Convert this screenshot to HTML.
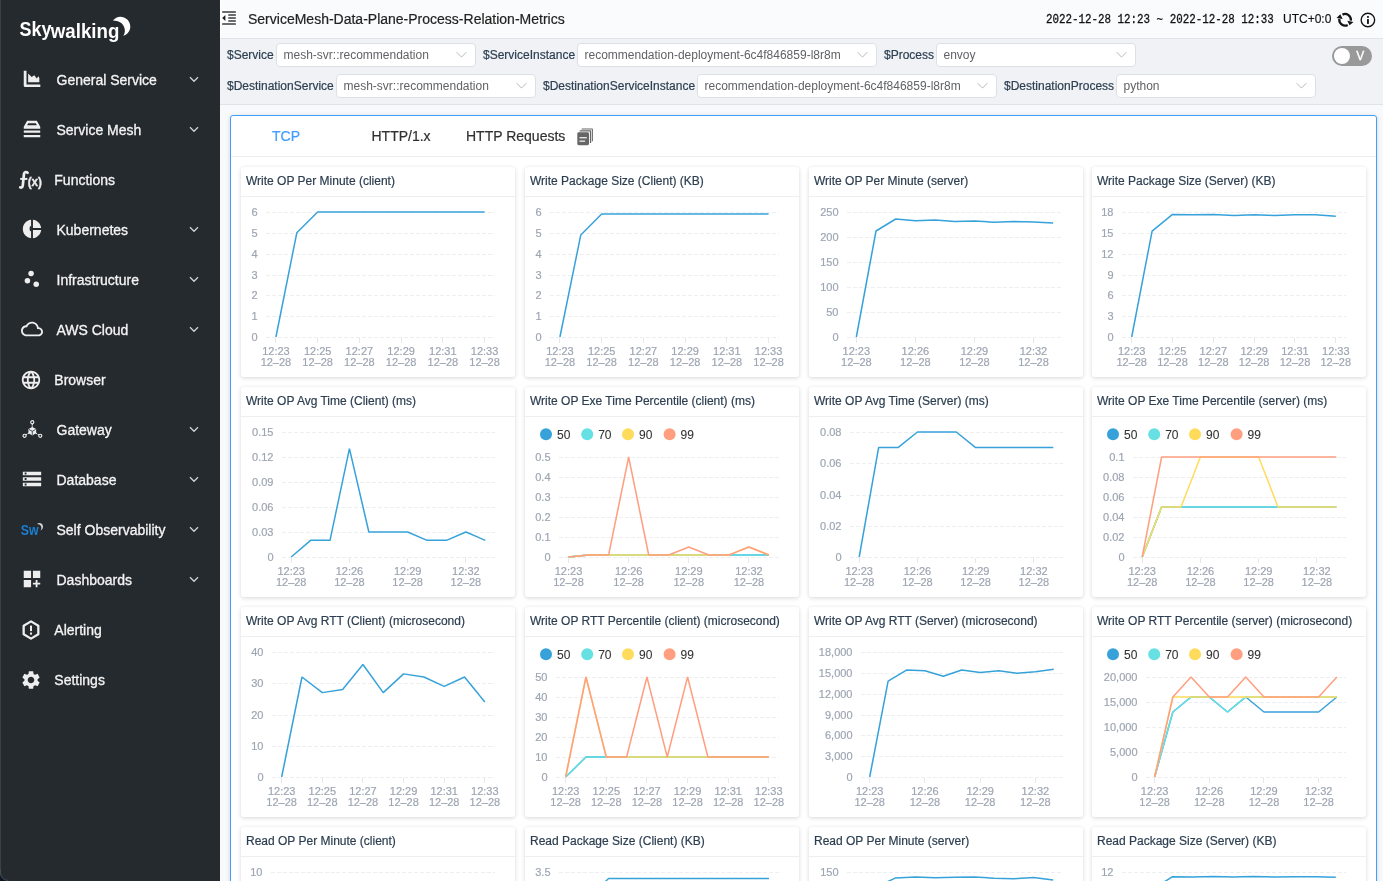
<!DOCTYPE html>
<html><head><meta charset="utf-8"><title>SkyWalking</title>
<style>
*{box-sizing:border-box;margin:0;padding:0}
html,body{width:1383px;height:881px;overflow:hidden;background:#f7f9fa;font-family:"Liberation Sans",sans-serif}
body{position:relative}
body>*{will-change:transform}
#side{position:absolute;left:0;top:0;width:220px;height:881px;background:#252a2f;box-shadow:inset 1px 0 0 #3b4045}
#logo{position:absolute;left:0;top:0}
#crn{position:absolute;left:0;top:869px;width:12px;height:12px}
.ico{position:absolute;width:22px;height:22px}
.mi{position:absolute;font-size:14px;line-height:20px;color:#f4f4f4;white-space:nowrap;-webkit-text-stroke:.3px #f4f4f4}
.arr{position:absolute;left:188px;width:12px;height:12px}
#nav{position:absolute;left:220px;top:0;width:1163px;height:39px;background:#fafbfc;border-bottom:1px solid #dfe4e8;border-left:1.400px solid #fff}
#fold{position:absolute;left:221px;top:9px;width:17px;height:18px}
#title{position:absolute;left:248px;top:9px;font-size:14px;line-height:20px;color:#222;white-space:nowrap;-webkit-text-stroke:.2px #222}
#date{position:absolute;left:1046px;top:10px;-webkit-text-stroke:.25px #111;font-family:"Liberation Mono",monospace;font-size:10.850px;line-height:20px;color:#111;white-space:nowrap;transform:scale(1,1.18);transform-origin:0 60%}
#utc{position:absolute;left:1283px;top:9px;font-size:12px;line-height:20px;color:#111;white-space:nowrap;-webkit-text-stroke:.15px #111}
#hic{position:absolute;left:1330px;top:6px;width:53px;height:28px}
#tool{position:absolute;left:220px;top:39px;width:1163px;height:66px;background:#f0f2f5;border-bottom:1px solid #dfe4e8}
.fl{position:absolute;font-size:12px;line-height:16px;color:#2c3e50;white-space:nowrap;-webkit-text-stroke:.2px #2c3e50}
.sel{position:absolute;height:24px;background:#fff;border:1px solid #dcdfe6;border-radius:4px;font-size:12px;line-height:22px;color:#606266;padding-left:6.500px;white-space:nowrap;overflow:hidden}
.sc{position:absolute;right:7px;top:3.600px;width:13px;height:13px}
#sw{position:absolute;left:1332px;top:46px;width:40px;height:20px;border-radius:10px;background:#999}
#sw i{position:absolute;left:2px;top:2px;width:16px;height:16px;border-radius:8px;background:#fff}
#sw b{position:absolute;left:24.300px;top:2px;font-weight:400;font-size:12px;line-height:16px;color:#fff;-webkit-text-stroke:.35px #fff}
#panel{position:absolute;left:230px;top:115px;width:1147px;height:900px;background:#fff;border:1px solid #409eff;border-radius:3px;box-shadow:0 1px 4px 0 rgba(0,0,0,.16)}
#tabs{position:absolute;left:0;top:0;width:1145px;height:41px;border-bottom:1px solid #eee}
.t{position:absolute;top:10px;font-size:14px;line-height:20px;color:#303133;white-space:nowrap;-webkit-text-stroke:.2px #303133}
.t.on{color:#409eff;-webkit-text-stroke:.2px #409eff}
#copy{position:absolute;left:344px;top:10px;width:20px;height:22px}
.card{position:absolute;width:274px;height:210px;background:#fff;border-radius:3px;box-shadow:0 1px 4px 0 rgba(0,0,0,.16)}
.ct{position:absolute;left:0;top:0;width:274px;height:30px;border-bottom:1px solid #eee;padding-left:5px;font-size:12px;line-height:28px;color:#2c3e50;white-space:nowrap;overflow:hidden;-webkit-text-stroke:.2px #2c3e50}
.ch{position:absolute;left:0;top:0}
.ch text{font-family:"Liberation Sans",sans-serif;font-size:11px;fill:#9da5b2;stroke:#9da5b2;stroke-width:.18px}
.ch text.lg{font-size:12px;fill:#333;stroke:#333;stroke-width:.08px}
</style></head><body>
<div id="side">
<svg id="logo" width="140" height="50" viewBox="0 0 140 50"><text x="19.500" y="36.300" font-family='"Liberation Sans", sans-serif' font-weight="700" font-size="20.500" fill="#fff" textLength="32" lengthAdjust="spacingAndGlyphs">Sky</text><text x="50.800" y="38.200" font-family='"Liberation Sans", sans-serif' font-weight="700" font-size="19.500" fill="#fff" textLength="68.500" lengthAdjust="spacingAndGlyphs">walking</text><path fill="#fff" d="M112.900 20.600C115 18 117.500 16.700 120.200 16.700C125.700 16.700 130.300 21 130.300 26.500C130.300 31 127.500 34.400 123.300 35.800C125.200 32.800 125.300 29.800 124.100 26.900C122.500 23 118.500 20.700 112.900 20.600Z"/></svg>
<svg class="ico" style="left:21px;top:68px" viewBox="0 0 24 24"><path fill="#eee" d="M3 3h3v14.900h15.100v2.900H4.500a1.500 1.500 0 0 1-1.500-1.500z"/><path fill="#eee" d="M7.800 6l3.800 3.700 2.900-1.700 2.700 3.500 1.700-2.400 1.100 1.700v4.800H7.800z"/></svg>
<div class="mi" style="left:56.5px;top:70px">General Service</div>
<svg class="arr" style="top:73.4px" viewBox="0 0 12 12"><path d="M2 4.300l4 4 4-4" fill="none" stroke="#d2d4d5" stroke-width="1.250"/></svg>
<svg class="ico" style="left:21px;top:118px" viewBox="0 0 24 24"><path fill="#eee" fill-rule="evenodd" d="M6.700 3.100h10.600l3.700 6.500v2H3v-2zM7.900 5.600l-1.200 2.200h10.600l-1.200-2.200z"/><rect x="3" y="13.500" width="18" height="2.500" rx=".5" fill="#eee"/><rect x="3" y="18.500" width="18" height="2.600" rx=".5" fill="#eee"/></svg>
<div class="mi" style="left:56.5px;top:120px">Service Mesh</div>
<svg class="arr" style="top:123.4px" viewBox="0 0 12 12"><path d="M2 4.300l4 4 4-4" fill="none" stroke="#d2d4d5" stroke-width="1.250"/></svg>
<svg class="ico" style="left:19px;top:169px;width:26px;height:22px" viewBox="0 0 26 22"><path fill="none" stroke="#eee" stroke-width="2.700" stroke-linecap="round" d="M8.500 3.800C7.400 2.700 5.400 2.500 5 4.800L3.800 16.300C3.500 18.600 2.200 18.900 1.200 18.300"/><path fill="none" stroke="#eee" stroke-width="2" d="M1.200 9.900H8.400"/><text x="8.700" y="16.600" font-family='"Liberation Sans", sans-serif' font-weight="700" font-size="12.500" fill="#eee" stroke="#eee" stroke-width=".35" textLength="14.300" lengthAdjust="spacingAndGlyphs">(x)</text></svg>
<div class="mi" style="left:54.3px;top:170px">Functions</div>
<svg class="ico" style="left:21px;top:218px" viewBox="0 0 24 24"><path fill="#eee" d="M11 2v20c-5.07-.5-9-4.79-9-10s3.93-9.5 9-10zm2.03 0v8.99H22c-.47-4.74-4.24-8.52-8.97-8.99zm0 11.01V22c4.74-.47 8.5-4.25 8.97-8.99h-8.97z"/><ellipse cx="10.500" cy="11.600" rx="1.100" ry="2.800" fill="#252a2f"/></svg>
<div class="mi" style="left:56.5px;top:220px">Kubernetes</div>
<svg class="arr" style="top:223.4px" viewBox="0 0 12 12"><path d="M2 4.300l4 4 4-4" fill="none" stroke="#d2d4d5" stroke-width="1.250"/></svg>
<svg class="ico" style="left:21px;top:268px" viewBox="0 0 24 24"><circle cx="7" cy="14" r="3" fill="#eee"/><circle cx="11" cy="6" r="3" fill="#eee"/><circle cx="16.6" cy="17.6" r="3" fill="#eee"/></svg>
<div class="mi" style="left:56.5px;top:270px">Infrastructure</div>
<svg class="arr" style="top:273.4px" viewBox="0 0 12 12"><path d="M2 4.300l4 4 4-4" fill="none" stroke="#d2d4d5" stroke-width="1.250"/></svg>
<svg class="ico" style="left:21px;top:318px" viewBox="0 0 24 24"><path fill="#eee" d="M19.35 10.04C18.67 6.59 15.64 4 12 4 9.11 4 6.6 5.64 5.35 8.04 2.34 8.36 0 10.91 0 14c0 3.31 2.69 6 6 6h13c2.76 0 5-2.24 5-5 0-2.64-2.05-4.78-4.65-4.96zM19 18H6c-2.21 0-4-1.79-4-4s1.79-4 4-4h.71C7.37 7.69 9.48 6 12 6c3.04 0 5.5 2.46 5.5 5.5v.5H19c1.66 0 3 1.34 3 3s-1.34 3-3 3z"/></svg>
<div class="mi" style="left:56.5px;top:320px">AWS Cloud</div>
<svg class="arr" style="top:323.4px" viewBox="0 0 12 12"><path d="M2 4.300l4 4 4-4" fill="none" stroke="#d2d4d5" stroke-width="1.250"/></svg>
<svg class="ico" style="left:20px;top:368.8px" viewBox="0 0 24 24"><path fill="#eee" d="M11.99 2C6.47 2 2 6.48 2 12s4.47 10 9.99 10C17.52 22 22 17.52 22 12S17.52 2 11.99 2zm6.93 6h-2.95c-.32-1.25-.78-2.45-1.38-3.56 1.84.63 3.37 1.91 4.33 3.56zM12 4.04c.83 1.2 1.48 2.53 1.91 3.96h-3.82c.43-1.43 1.08-2.76 1.91-3.96zM4.26 14C4.1 13.36 4 12.69 4 12s.1-1.36.26-2h3.38c-.08.66-.14 1.32-.14 2 0 .68.06 1.34.14 2H4.26zm.82 2h2.95c.32 1.25.78 2.45 1.38 3.56-1.84-.63-3.37-1.9-4.33-3.56zm2.95-8H5.08c.96-1.66 2.49-2.93 4.33-3.56C8.81 5.55 8.35 6.75 8.03 8zM12 19.96c-.83-1.2-1.48-2.53-1.91-3.96h3.82c-.43 1.43-1.08 2.76-1.91 3.96zM14.34 14H9.66c-.09-.66-.16-1.32-.16-2 0-.68.07-1.35.16-2h4.68c.09.65.16 1.32.16 2 0 .68-.07 1.34-.16 2zm.25 5.56c.6-1.11 1.06-2.31 1.38-3.56h2.95c-.96 1.65-2.49 2.93-4.33 3.56zM16.36 14c.08-.66.14-1.32.14-2 0-.68-.06-1.34-.14-2h3.38c.16.64.26 1.31.26 2s-.1 1.36-.26 2h-3.38z"/></svg>
<div class="mi" style="left:54.3px;top:370px">Browser</div>
<svg class="ico" style="left:21px;top:418px" viewBox="0 0 24 24"><g fill="none" stroke="#eee" stroke-width="1.3"><circle cx="12.3" cy="4.6" r="1.7"/><circle cx="3.9" cy="19.4" r="1.7"/><circle cx="21" cy="19.4" r="1.7"/></g><g stroke="#eee" stroke-width="1.4" stroke-dasharray="1.5 1"><path d="M12.3 6.6v3.6M8.6 16.4l-3 1.9M16 16.4l3.2 1.9"/></g><path fill="#eee" d="M12.300 9.700l4.200 2.300v4.700l-4.200 2.400-4.200-2.400v-4.700z"/><path fill="none" stroke="#252a2f" stroke-width=".9" d="M8.700 12.500l3.600 2 3.600-2M12.300 14.500v4.200"/></svg>
<div class="mi" style="left:56.5px;top:420px">Gateway</div>
<svg class="arr" style="top:423.4px" viewBox="0 0 12 12"><path d="M2 4.300l4 4 4-4" fill="none" stroke="#d2d4d5" stroke-width="1.250"/></svg>
<svg class="ico" style="left:21px;top:468px" viewBox="0 0 24 24"><path fill="#eee" d="M2 20h20v-4H2v4zm2-3h2v2H4v-2zM2 4v4h20V4H2zm4 3H4V5h2v2zm-4 7h20v-4H2v4zm2-3h2v2H4v-2z"/></svg>
<div class="mi" style="left:56.5px;top:470px">Database</div>
<svg class="arr" style="top:473.4px" viewBox="0 0 12 12"><path d="M2 4.300l4 4 4-4" fill="none" stroke="#d2d4d5" stroke-width="1.250"/></svg>
<svg class="ico" style="left:20px;top:518px;width:26px;height:22px" viewBox="0 0 26 22"><text x="0.800" y="16.800" font-family='"Liberation Sans", sans-serif' font-weight="700" font-size="14.500" fill="#1b7fd3" textLength="17.800" lengthAdjust="spacingAndGlyphs">Sw</text><path fill="#d4d5d6" d="M17 5.900C18.200 4.800 20 4.600 21.400 5.500C23.300 6.800 23.600 9.800 22 11.600C21.600 12 21.200 12.300 20.600 12.500C21.500 11 21.600 9.500 21 8.200C20.300 6.700 18.800 5.900 17 5.900Z"/></svg>
<div class="mi" style="left:56.5px;top:520px">Self Observability</div>
<svg class="arr" style="top:523.4px" viewBox="0 0 12 12"><path d="M2 4.300l4 4 4-4" fill="none" stroke="#d2d4d5" stroke-width="1.250"/></svg>
<svg class="ico" style="left:21px;top:568px" viewBox="0 0 24 24"><path fill="#eee" d="M3 3h8v8H3zm10 0h8v8h-8zM3 13h8v8H3zm15 0h-2v3h-3v2h3v3h2v-3h3v-2h-3z"/></svg>
<div class="mi" style="left:56.5px;top:570px">Dashboards</div>
<svg class="arr" style="top:573.4px" viewBox="0 0 12 12"><path d="M2 4.300l4 4 4-4" fill="none" stroke="#d2d4d5" stroke-width="1.250"/></svg>
<svg class="ico" style="left:20px;top:618.8px" viewBox="0 0 24 24"><path fill="none" stroke="#eee" stroke-width="2.500" stroke-linejoin="round" d="M12 2.600l8 4.700v9.400l-8 4.700-8-4.700V7.300z"/><rect x="10.9" y="7.2" width="2.2" height="6" fill="#eee"/><rect x="10.9" y="14.8" width="2.2" height="2.2" fill="#eee"/></svg>
<div class="mi" style="left:54.3px;top:620px">Alerting</div>
<svg class="ico" style="left:20px;top:668.8px" viewBox="0 0 24 24"><path fill="#eee" d="M19.14 12.94c.04-.3.06-.61.06-.94 0-.32-.02-.64-.07-.94l2.03-1.58c.18-.14.23-.41.12-.61l-1.92-3.32c-.12-.22-.37-.29-.59-.22l-2.39.96c-.5-.38-1.03-.7-1.62-.94l-.36-2.54c-.04-.24-.24-.41-.48-.41h-3.840c-.24 0-.43.17-.47.41l-.36 2.54c-.59.24-1.130.57-1.620.94l-2.390-.96c-.22-.08-.47 0-.59.22L2.740 8.870c-.12.210-.08.470.12.610l2.030 1.580c-.05.300-.09.630-.09.940s.02.640.07.940l-2.030 1.580c-.18.140-.23.410-.12.610l1.920 3.320c.12.220.37.290.59.220l2.390-.96c.5.380 1.030.700 1.620.940l.36 2.540c.5.240.24.410.48.410h3.840c.24 0 .44-.17.470-.41l.36-2.540c.59-.24 1.130-.56 1.620-.94l2.390.96c.22.080.47 0 .59-.22l1.920-3.320c.12-.22.07-.47-.12-.61l-2.010-1.580zM12 15.600c-1.980 0-3.600-1.620-3.600-3.600s1.620-3.600 3.600-3.600 3.600 1.620 3.600 3.600-1.620 3.600-3.600 3.600z"/></svg>
<div class="mi" style="left:54.3px;top:670px">Settings</div>
<svg id="crn" viewBox="0 0 12 12"><path d="M0 3.700A8.300 8.300 0 0 0 8.300 12H0Z" fill="#0b1724"/><path d="M.5 0V3.700A7.800 7.800 0 0 0 8.300 11.500" fill="none" stroke="#474c51" stroke-width="1"/></svg>
</div>
<div id="nav"></div>
<svg id="fold" viewBox="221 9 17 18"><rect x="221.600" y="9.600" width="15.400" height="16.700" rx="1" fill="#fff"/><g fill="#3a3e42"><rect x="222.100" y="11.150" width="13.800" height="1.650" rx=".4"/><rect x="228.200" y="14.150" width="7.700" height="1.650" rx=".4"/><rect x="228.200" y="17.150" width="7.700" height="1.650" rx=".4"/><rect x="228.200" y="20.150" width="7.700" height="1.650" rx=".4"/><rect x="222.100" y="23.150" width="13.800" height="1.650" rx=".4"/></g><path fill="#1d2023" d="M222.200 18L225.400 15.100V20.900Z"/></svg>
<div id="title">ServiceMesh-Data-Plane-Process-Relation-Metrics</div>
<div id="date">2022-12-28 12:23 ~ 2022-12-28 12:33</div>
<div id="utc">UTC+0:0</div>
<svg id="hic" viewBox="1330 6 53 28"><path d="M1342.47 14.63 A5.8 5.8 0 0 1 1350.84 20.61" fill="none" stroke="#151515" stroke-width="2.300"/><path d="M1347.73 24.97 A5.8 5.8 0 0 1 1339.36 18.99" fill="none" stroke="#151515" stroke-width="2.300"/><path fill="#151515" d="M1347.300 20.800L1353.500 22.100L1349.600 25.200Z M1336.500 17.900L1342.700 18.900L1340.300 14.300Z"/><circle cx="1367.900" cy="20" r="6.750" fill="none" stroke="#151515" stroke-width="1.350"/><rect x="1367" y="19.100" width="1.900" height="4.800" fill="#151515"/><rect x="1367" y="16.100" width="1.900" height="1.700" fill="#151515"/></svg>
<div id="tool"></div>
<div class="fl" style="left:227px;top:47px">$Service</div>
<div class="sel" style="left:276px;top:43px;width:200px"><span>mesh-svr::recommendation</span><svg class="sc" viewBox="0 0 14 14"><path d="M1.800 4.500L7 9.800l5.200-5.300" fill="none" stroke="#b0b3ba" stroke-width="1"/></svg></div>
<div class="fl" style="left:483px;top:47px">$ServiceInstance</div>
<div class="sel" style="left:577px;top:43px;width:300px"><span>recommendation-deployment-6c4f846859-l8r8m</span><svg class="sc" viewBox="0 0 14 14"><path d="M1.800 4.500L7 9.800l5.200-5.300" fill="none" stroke="#b0b3ba" stroke-width="1"/></svg></div>
<div class="fl" style="left:883.5px;top:47px">$Process</div>
<div class="sel" style="left:936px;top:43px;width:200px"><span>envoy</span><svg class="sc" viewBox="0 0 14 14"><path d="M1.800 4.500L7 9.800l5.200-5.300" fill="none" stroke="#b0b3ba" stroke-width="1"/></svg></div>
<div class="fl" style="left:227px;top:78px">$DestinationService</div>
<div class="sel" style="left:336px;top:74px;width:200px"><span>mesh-svr::recommendation</span><svg class="sc" viewBox="0 0 14 14"><path d="M1.800 4.500L7 9.800l5.200-5.300" fill="none" stroke="#b0b3ba" stroke-width="1"/></svg></div>
<div class="fl" style="left:543px;top:78px">$DestinationServiceInstance</div>
<div class="sel" style="left:697px;top:74px;width:300px"><span>recommendation-deployment-6c4f846859-l8r8m</span><svg class="sc" viewBox="0 0 14 14"><path d="M1.800 4.500L7 9.800l5.200-5.300" fill="none" stroke="#b0b3ba" stroke-width="1"/></svg></div>
<div class="fl" style="left:1004px;top:78px">$DestinationProcess</div>
<div class="sel" style="left:1116px;top:74px;width:200px"><span>python</span><svg class="sc" viewBox="0 0 14 14"><path d="M1.800 4.500L7 9.800l5.200-5.300" fill="none" stroke="#b0b3ba" stroke-width="1"/></svg></div>
<div id="sw"><i></i><b>V</b></div>
<div id="panel">
<div id="tabs"><span class="t on" style="left:41px">TCP</span><span class="t" style="left:140.500px">HTTP/1.x</span><span class="t" style="left:235px">HTTP Requests</span><svg id="copy" viewBox="575 126 20 22"><rect x="577.300" y="132.300" width="11.700" height="12.900" rx="1.400" fill="#666"/><rect x="579.500" y="137" width="7.300" height="1.400" fill="#e4e4e4"/><rect x="579.500" y="140.500" width="5.600" height="1.400" fill="#e4e4e4"/><path fill="#666" d="M579.600 131.500V130.900Q579.600 130.200 580.300 130.200H590.400Q591.200 130.200 591.200 131V143H589.900V131.500Z"/><path fill="#666" d="M581.500 129.500V129Q581.500 128.400 582.100 128.400H592.100Q592.900 128.400 592.900 129.200V141.300H591.900V129.500Z"/></svg></div>
<div class="card" style="left:10px;top:51px"><div class="ct">Write OP Per Minute (client)</div><svg class="ch" width="274" height="210" viewBox="0 0 274 210"><g stroke="#eceef0" stroke-width="1" stroke-dasharray="4 2" shape-rendering="crispEdges"><line x1="24.5" y1="45.5" x2="254" y2="45.5"/><line x1="24.5" y1="66.5" x2="254" y2="66.5"/><line x1="24.5" y1="87.5" x2="254" y2="87.5"/><line x1="24.5" y1="108.5" x2="254" y2="108.5"/><line x1="24.5" y1="128.5" x2="254" y2="128.5"/><line x1="24.5" y1="149.5" x2="254" y2="149.5"/><line x1="24.5" y1="170.5" x2="254" y2="170.5"/></g><g class="yl" text-anchor="end"><text x="16.5" y="48.95">6</text><text x="16.5" y="69.95">5</text><text x="16.5" y="90.95">4</text><text x="16.5" y="111.95">3</text><text x="16.5" y="131.95">2</text><text x="16.5" y="152.95">1</text><text x="16.5" y="173.95">0</text></g><g stroke="#e6e8eb" stroke-width="1" shape-rendering="crispEdges"><line x1="34.5" y1="170.5" x2="34.5" y2="175.5"/><line x1="76.5" y1="170.5" x2="76.5" y2="175.5"/><line x1="118.5" y1="170.5" x2="118.5" y2="175.5"/><line x1="160.5" y1="170.5" x2="160.5" y2="175.5"/><line x1="201.5" y1="170.5" x2="201.5" y2="175.5"/><line x1="243.5" y1="170.5" x2="243.5" y2="175.5"/></g><g class="xl" text-anchor="middle"><text x="34.93" y="188.2">12:23</text><text x="34.93" y="199.2">12–28</text><text x="76.66" y="188.2">12:25</text><text x="76.66" y="199.2">12–28</text><text x="118.39" y="188.2">12:27</text><text x="118.39" y="199.2">12–28</text><text x="160.11" y="188.2">12:29</text><text x="160.11" y="199.2">12–28</text><text x="201.84" y="188.2">12:31</text><text x="201.84" y="199.2">12–28</text><text x="243.57" y="188.2">12:33</text><text x="243.57" y="199.2">12–28</text></g><polyline fill="none" stroke="#37a2da" stroke-width="1.5" stroke-linejoin="bevel" points="34.93,170 55.8,65.83 76.66,45 97.52,45 118.39,45 139.25,45 160.11,45 180.98,45 201.84,45 222.7,45 243.57,45"/></svg></div>
<div class="card" style="left:294px;top:51px"><div class="ct">Write Package Size (Client) (KB)</div><svg class="ch" width="274" height="210" viewBox="0 0 274 210"><g stroke="#eceef0" stroke-width="1" stroke-dasharray="4 2" shape-rendering="crispEdges"><line x1="24.5" y1="45.5" x2="254" y2="45.5"/><line x1="24.5" y1="66.5" x2="254" y2="66.5"/><line x1="24.5" y1="87.5" x2="254" y2="87.5"/><line x1="24.5" y1="108.5" x2="254" y2="108.5"/><line x1="24.5" y1="128.5" x2="254" y2="128.5"/><line x1="24.5" y1="149.5" x2="254" y2="149.5"/><line x1="24.5" y1="170.5" x2="254" y2="170.5"/></g><g class="yl" text-anchor="end"><text x="16.5" y="48.95">6</text><text x="16.5" y="69.95">5</text><text x="16.5" y="90.95">4</text><text x="16.5" y="111.95">3</text><text x="16.5" y="131.95">2</text><text x="16.5" y="152.95">1</text><text x="16.5" y="173.95">0</text></g><g stroke="#e6e8eb" stroke-width="1" shape-rendering="crispEdges"><line x1="34.5" y1="170.5" x2="34.5" y2="175.5"/><line x1="76.5" y1="170.5" x2="76.5" y2="175.5"/><line x1="118.5" y1="170.5" x2="118.5" y2="175.5"/><line x1="160.5" y1="170.5" x2="160.5" y2="175.5"/><line x1="201.5" y1="170.5" x2="201.5" y2="175.5"/><line x1="243.5" y1="170.5" x2="243.5" y2="175.5"/></g><g class="xl" text-anchor="middle"><text x="34.93" y="188.2">12:23</text><text x="34.93" y="199.2">12–28</text><text x="76.66" y="188.2">12:25</text><text x="76.66" y="199.2">12–28</text><text x="118.39" y="188.2">12:27</text><text x="118.39" y="199.2">12–28</text><text x="160.11" y="188.2">12:29</text><text x="160.11" y="199.2">12–28</text><text x="201.84" y="188.2">12:31</text><text x="201.84" y="199.2">12–28</text><text x="243.57" y="188.2">12:33</text><text x="243.57" y="199.2">12–28</text></g><polyline fill="none" stroke="#37a2da" stroke-width="1.5" stroke-linejoin="bevel" points="34.93,170 55.8,67.92 76.66,47.08 97.52,47.08 118.39,47.08 139.25,47.08 160.11,47.08 180.98,47.08 201.84,47.08 222.7,47.08 243.57,47.08"/></svg></div>
<div class="card" style="left:578px;top:51px"><div class="ct">Write OP Per Minute (server)</div><svg class="ch" width="274" height="210" viewBox="0 0 274 210"><g stroke="#eceef0" stroke-width="1" stroke-dasharray="4 2" shape-rendering="crispEdges"><line x1="37.5" y1="45.5" x2="254" y2="45.5"/><line x1="37.5" y1="70.5" x2="254" y2="70.5"/><line x1="37.5" y1="95.5" x2="254" y2="95.5"/><line x1="37.5" y1="120.5" x2="254" y2="120.5"/><line x1="37.5" y1="145.5" x2="254" y2="145.5"/><line x1="37.5" y1="170.5" x2="254" y2="170.5"/></g><g class="yl" text-anchor="end"><text x="29.5" y="48.95">250</text><text x="29.5" y="73.95">200</text><text x="29.5" y="98.95">150</text><text x="29.5" y="123.95">100</text><text x="29.5" y="148.95">50</text><text x="29.5" y="173.95">0</text></g><g stroke="#e6e8eb" stroke-width="1" shape-rendering="crispEdges"><line x1="47.5" y1="170.5" x2="47.5" y2="175.5"/><line x1="106.5" y1="170.5" x2="106.5" y2="175.5"/><line x1="165.5" y1="170.5" x2="165.5" y2="175.5"/><line x1="224.5" y1="170.5" x2="224.5" y2="175.5"/></g><g class="xl" text-anchor="middle"><text x="47.34" y="188.2">12:23</text><text x="47.34" y="199.2">12–28</text><text x="106.39" y="188.2">12:26</text><text x="106.39" y="199.2">12–28</text><text x="165.43" y="188.2">12:29</text><text x="165.43" y="199.2">12–28</text><text x="224.48" y="188.2">12:32</text><text x="224.48" y="199.2">12–28</text></g><polyline fill="none" stroke="#37a2da" stroke-width="1.5" stroke-linejoin="bevel" points="47.34,170 67.02,64 86.7,52 106.39,53.75 126.07,53 145.75,54.5 165.43,54 185.11,55.25 204.8,54.5 224.48,55 244.16,56"/></svg></div>
<div class="card" style="left:861px;top:51px"><div class="ct">Write Package Size (Server) (KB)</div><svg class="ch" width="274" height="210" viewBox="0 0 274 210"><g stroke="#eceef0" stroke-width="1" stroke-dasharray="4 2" shape-rendering="crispEdges"><line x1="29.5" y1="45.5" x2="254" y2="45.5"/><line x1="29.5" y1="66.5" x2="254" y2="66.5"/><line x1="29.5" y1="87.5" x2="254" y2="87.5"/><line x1="29.5" y1="108.5" x2="254" y2="108.5"/><line x1="29.5" y1="128.5" x2="254" y2="128.5"/><line x1="29.5" y1="149.5" x2="254" y2="149.5"/><line x1="29.5" y1="170.5" x2="254" y2="170.5"/></g><g class="yl" text-anchor="end"><text x="21.5" y="48.95">18</text><text x="21.5" y="69.95">15</text><text x="21.5" y="90.95">12</text><text x="21.5" y="111.95">9</text><text x="21.5" y="131.95">6</text><text x="21.5" y="152.95">3</text><text x="21.5" y="173.95">0</text></g><g stroke="#e6e8eb" stroke-width="1" shape-rendering="crispEdges"><line x1="39.5" y1="170.5" x2="39.5" y2="175.5"/><line x1="80.5" y1="170.5" x2="80.5" y2="175.5"/><line x1="121.5" y1="170.5" x2="121.5" y2="175.5"/><line x1="162.5" y1="170.5" x2="162.5" y2="175.5"/><line x1="202.5" y1="170.5" x2="202.5" y2="175.5"/><line x1="243.5" y1="170.5" x2="243.5" y2="175.5"/></g><g class="xl" text-anchor="middle"><text x="39.7" y="188.2">12:23</text><text x="39.7" y="199.2">12–28</text><text x="80.52" y="188.2">12:25</text><text x="80.52" y="199.2">12–28</text><text x="121.34" y="188.2">12:27</text><text x="121.34" y="199.2">12–28</text><text x="162.16" y="188.2">12:29</text><text x="162.16" y="199.2">12–28</text><text x="202.98" y="188.2">12:31</text><text x="202.98" y="199.2">12–28</text><text x="243.8" y="188.2">12:33</text><text x="243.8" y="199.2">12–28</text></g><polyline fill="none" stroke="#37a2da" stroke-width="1.5" stroke-linejoin="bevel" points="39.7,170 60.11,64.1 80.52,47.43 100.93,47.78 121.34,47.43 141.75,48.47 162.16,47.78 182.57,48.47 202.98,47.78 223.39,47.78 243.8,49.17"/></svg></div>
<div class="card" style="left:10px;top:271px"><div class="ct">Write OP Avg Time (Client) (ms)</div><svg class="ch" width="274" height="210" viewBox="0 0 274 210"><g stroke="#eceef0" stroke-width="1" stroke-dasharray="4 2" shape-rendering="crispEdges"><line x1="40.5" y1="45.5" x2="254" y2="45.5"/><line x1="40.5" y1="70.5" x2="254" y2="70.5"/><line x1="40.5" y1="95.5" x2="254" y2="95.5"/><line x1="40.5" y1="120.5" x2="254" y2="120.5"/><line x1="40.5" y1="145.5" x2="254" y2="145.5"/><line x1="40.5" y1="170.5" x2="254" y2="170.5"/></g><g class="yl" text-anchor="end"><text x="32.5" y="48.95">0.15</text><text x="32.5" y="73.95">0.12</text><text x="32.5" y="98.95">0.09</text><text x="32.5" y="123.95">0.06</text><text x="32.5" y="148.95">0.03</text><text x="32.5" y="173.95">0</text></g><g stroke="#e6e8eb" stroke-width="1" shape-rendering="crispEdges"><line x1="50.5" y1="170.5" x2="50.5" y2="175.5"/><line x1="108.5" y1="170.5" x2="108.5" y2="175.5"/><line x1="166.5" y1="170.5" x2="166.5" y2="175.5"/><line x1="224.5" y1="170.5" x2="224.5" y2="175.5"/></g><g class="xl" text-anchor="middle"><text x="50.2" y="188.2">12:23</text><text x="50.2" y="199.2">12–28</text><text x="108.43" y="188.2">12:26</text><text x="108.43" y="199.2">12–28</text><text x="166.66" y="188.2">12:29</text><text x="166.66" y="199.2">12–28</text><text x="224.89" y="188.2">12:32</text><text x="224.89" y="199.2">12–28</text></g><polyline fill="none" stroke="#37a2da" stroke-width="1.5" stroke-linejoin="bevel" points="50.2,170 69.61,153.33 89.02,153.33 108.43,61.67 127.84,145 147.25,145 166.66,145 186.07,153.33 205.48,153.33 224.89,145 244.3,153.33"/></svg></div>
<div class="card" style="left:294px;top:271px"><div class="ct">Write OP Exe Time Percentile (client) (ms)</div><svg class="ch" width="274" height="210" viewBox="0 0 274 210"><g stroke="#eceef0" stroke-width="1" stroke-dasharray="4 2" shape-rendering="crispEdges"><line x1="33.5" y1="70.5" x2="254" y2="70.5"/><line x1="33.5" y1="90.5" x2="254" y2="90.5"/><line x1="33.5" y1="110.5" x2="254" y2="110.5"/><line x1="33.5" y1="130.5" x2="254" y2="130.5"/><line x1="33.5" y1="150.5" x2="254" y2="150.5"/><line x1="33.5" y1="170.5" x2="254" y2="170.5"/></g><g class="yl" text-anchor="end"><text x="25.5" y="73.95">0.5</text><text x="25.5" y="93.95">0.4</text><text x="25.5" y="113.95">0.3</text><text x="25.5" y="133.95">0.2</text><text x="25.5" y="153.95">0.1</text><text x="25.5" y="173.95">0</text></g><g stroke="#e6e8eb" stroke-width="1" shape-rendering="crispEdges"><line x1="43.5" y1="170.5" x2="43.5" y2="175.5"/><line x1="103.5" y1="170.5" x2="103.5" y2="175.5"/><line x1="163.5" y1="170.5" x2="163.5" y2="175.5"/><line x1="223.5" y1="170.5" x2="223.5" y2="175.5"/></g><g class="xl" text-anchor="middle"><text x="43.52" y="188.2">12:23</text><text x="43.52" y="199.2">12–28</text><text x="103.66" y="188.2">12:26</text><text x="103.66" y="199.2">12–28</text><text x="163.8" y="188.2">12:29</text><text x="163.8" y="199.2">12–28</text><text x="223.93" y="188.2">12:32</text><text x="223.93" y="199.2">12–28</text></g><polyline fill="none" stroke="#37a2da" stroke-width="1.5" stroke-linejoin="bevel" points="43.52,170 63.57,168 83.61,168 103.66,168 123.7,168 143.75,168 163.8,168 183.84,168 203.89,168 223.93,168 243.98,168"/><polyline fill="none" stroke="#67e0e3" stroke-width="1.5" stroke-linejoin="bevel" points="43.52,170 63.57,168 83.61,168 103.66,168 123.7,168 143.75,168 163.8,168 183.84,168 203.89,168 223.93,168 243.98,168"/><polyline fill="none" stroke="#ffdb5c" stroke-width="1.5" stroke-linejoin="bevel" points="43.52,170 63.57,168 83.61,168 103.66,168 123.7,168 143.75,168 163.8,168 183.84,168 203.89,168 223.93,160 243.98,168"/><polyline fill="none" stroke="#ff9f7f" stroke-width="1.5" stroke-linejoin="bevel" points="43.52,170 63.57,168 83.61,168 103.66,70 123.7,168 143.75,168 163.8,160 183.84,168 203.89,168 223.93,160 243.98,168"/><circle cx="21" cy="47.3" r="6" fill="#37a2da"/><text class="lg" x="32" y="51.6">50</text><circle cx="62.2" cy="47.3" r="6" fill="#67e0e3"/><text class="lg" x="73.2" y="51.6">70</text><circle cx="103" cy="47.3" r="6" fill="#ffdb5c"/><text class="lg" x="114" y="51.6">90</text><circle cx="144.6" cy="47.3" r="6" fill="#ff9f7f"/><text class="lg" x="155.6" y="51.6">99</text></svg></div>
<div class="card" style="left:578px;top:271px"><div class="ct">Write OP Avg Time (Server) (ms)</div><svg class="ch" width="274" height="210" viewBox="0 0 274 210"><g stroke="#eceef0" stroke-width="1" stroke-dasharray="4 2" shape-rendering="crispEdges"><line x1="40.5" y1="45.5" x2="254" y2="45.5"/><line x1="40.5" y1="76.5" x2="254" y2="76.5"/><line x1="40.5" y1="108.5" x2="254" y2="108.5"/><line x1="40.5" y1="139.5" x2="254" y2="139.5"/><line x1="40.5" y1="170.5" x2="254" y2="170.5"/></g><g class="yl" text-anchor="end"><text x="32.5" y="48.95">0.08</text><text x="32.5" y="79.95">0.06</text><text x="32.5" y="111.95">0.04</text><text x="32.5" y="142.95">0.02</text><text x="32.5" y="173.95">0</text></g><g stroke="#e6e8eb" stroke-width="1" shape-rendering="crispEdges"><line x1="50.5" y1="170.5" x2="50.5" y2="175.5"/><line x1="108.5" y1="170.5" x2="108.5" y2="175.5"/><line x1="166.5" y1="170.5" x2="166.5" y2="175.5"/><line x1="224.5" y1="170.5" x2="224.5" y2="175.5"/></g><g class="xl" text-anchor="middle"><text x="50.2" y="188.2">12:23</text><text x="50.2" y="199.2">12–28</text><text x="108.43" y="188.2">12:26</text><text x="108.43" y="199.2">12–28</text><text x="166.66" y="188.2">12:29</text><text x="166.66" y="199.2">12–28</text><text x="224.89" y="188.2">12:32</text><text x="224.89" y="199.2">12–28</text></g><polyline fill="none" stroke="#37a2da" stroke-width="1.5" stroke-linejoin="bevel" points="50.2,170 69.61,60.62 89.02,60.62 108.43,45 127.84,45 147.25,45 166.66,60.62 186.07,60.62 205.48,60.62 224.89,60.62 244.3,60.62"/></svg></div>
<div class="card" style="left:861px;top:271px"><div class="ct">Write OP Exe Time Percentile (server) (ms)</div><svg class="ch" width="274" height="210" viewBox="0 0 274 210"><g stroke="#eceef0" stroke-width="1" stroke-dasharray="4 2" shape-rendering="crispEdges"><line x1="40.5" y1="70.5" x2="254" y2="70.5"/><line x1="40.5" y1="90.5" x2="254" y2="90.5"/><line x1="40.5" y1="110.5" x2="254" y2="110.5"/><line x1="40.5" y1="130.5" x2="254" y2="130.5"/><line x1="40.5" y1="150.5" x2="254" y2="150.5"/><line x1="40.5" y1="170.5" x2="254" y2="170.5"/></g><g class="yl" text-anchor="end"><text x="32.5" y="73.95">0.1</text><text x="32.5" y="93.95">0.08</text><text x="32.5" y="113.95">0.06</text><text x="32.5" y="133.95">0.04</text><text x="32.5" y="153.95">0.02</text><text x="32.5" y="173.95">0</text></g><g stroke="#e6e8eb" stroke-width="1" shape-rendering="crispEdges"><line x1="50.5" y1="170.5" x2="50.5" y2="175.5"/><line x1="108.5" y1="170.5" x2="108.5" y2="175.5"/><line x1="166.5" y1="170.5" x2="166.5" y2="175.5"/><line x1="224.5" y1="170.5" x2="224.5" y2="175.5"/></g><g class="xl" text-anchor="middle"><text x="50.2" y="188.2">12:23</text><text x="50.2" y="199.2">12–28</text><text x="108.43" y="188.2">12:26</text><text x="108.43" y="199.2">12–28</text><text x="166.66" y="188.2">12:29</text><text x="166.66" y="199.2">12–28</text><text x="224.89" y="188.2">12:32</text><text x="224.89" y="199.2">12–28</text></g><polyline fill="none" stroke="#37a2da" stroke-width="1.5" stroke-linejoin="bevel" points="50.2,170 69.61,120 89.02,120 108.43,120 127.84,120 147.25,120 166.66,120 186.07,120 205.48,120 224.89,120 244.3,120"/><polyline fill="none" stroke="#67e0e3" stroke-width="1.5" stroke-linejoin="bevel" points="50.2,170 69.61,120 89.02,120 108.43,120 127.84,120 147.25,120 166.66,120 186.07,120 205.48,120 224.89,120 244.3,120"/><polyline fill="none" stroke="#ffdb5c" stroke-width="1.5" stroke-linejoin="bevel" points="50.2,170 69.61,120 89.02,120 108.43,70 127.84,70 147.25,70 166.66,70 186.07,120 205.48,120 224.89,120 244.3,120"/><polyline fill="none" stroke="#ff9f7f" stroke-width="1.5" stroke-linejoin="bevel" points="50.2,170 69.61,70 89.02,70 108.43,70 127.84,70 147.25,70 166.66,70 186.07,70 205.48,70 224.89,70 244.3,70"/><circle cx="21" cy="47.3" r="6" fill="#37a2da"/><text class="lg" x="32" y="51.6">50</text><circle cx="62.2" cy="47.3" r="6" fill="#67e0e3"/><text class="lg" x="73.2" y="51.6">70</text><circle cx="103" cy="47.3" r="6" fill="#ffdb5c"/><text class="lg" x="114" y="51.6">90</text><circle cx="144.6" cy="47.3" r="6" fill="#ff9f7f"/><text class="lg" x="155.6" y="51.6">99</text></svg></div>
<div class="card" style="left:10px;top:491px"><div class="ct">Write OP Avg RTT (Client) (microsecond)</div><svg class="ch" width="274" height="210" viewBox="0 0 274 210"><g stroke="#eceef0" stroke-width="1" stroke-dasharray="4 2" shape-rendering="crispEdges"><line x1="30.5" y1="45.5" x2="254" y2="45.5"/><line x1="30.5" y1="76.5" x2="254" y2="76.5"/><line x1="30.5" y1="108.5" x2="254" y2="108.5"/><line x1="30.5" y1="139.5" x2="254" y2="139.5"/><line x1="30.5" y1="170.5" x2="254" y2="170.5"/></g><g class="yl" text-anchor="end"><text x="22.5" y="48.95">40</text><text x="22.5" y="79.95">30</text><text x="22.5" y="111.95">20</text><text x="22.5" y="142.95">10</text><text x="22.5" y="173.95">0</text></g><g stroke="#e6e8eb" stroke-width="1" shape-rendering="crispEdges"><line x1="40.5" y1="170.5" x2="40.5" y2="175.5"/><line x1="81.5" y1="170.5" x2="81.5" y2="175.5"/><line x1="121.5" y1="170.5" x2="121.5" y2="175.5"/><line x1="162.5" y1="170.5" x2="162.5" y2="175.5"/><line x1="203.5" y1="170.5" x2="203.5" y2="175.5"/><line x1="243.5" y1="170.5" x2="243.5" y2="175.5"/></g><g class="xl" text-anchor="middle"><text x="40.66" y="188.2">12:23</text><text x="40.66" y="199.2">12–28</text><text x="81.3" y="188.2">12:25</text><text x="81.3" y="199.2">12–28</text><text x="121.93" y="188.2">12:27</text><text x="121.93" y="199.2">12–28</text><text x="162.57" y="188.2">12:29</text><text x="162.57" y="199.2">12–28</text><text x="203.2" y="188.2">12:31</text><text x="203.2" y="199.2">12–28</text><text x="243.84" y="188.2">12:33</text><text x="243.84" y="199.2">12–28</text></g><polyline fill="none" stroke="#37a2da" stroke-width="1.5" stroke-linejoin="bevel" points="40.66,170 60.98,70 81.3,85.62 101.61,82.5 121.93,57.5 142.25,85.62 162.57,66.88 182.89,70 203.2,79.38 223.52,70 243.84,95"/></svg></div>
<div class="card" style="left:294px;top:491px"><div class="ct">Write OP RTT Percentile (client) (microsecond)</div><svg class="ch" width="274" height="210" viewBox="0 0 274 210"><g stroke="#eceef0" stroke-width="1" stroke-dasharray="4 2" shape-rendering="crispEdges"><line x1="30.5" y1="70.5" x2="254" y2="70.5"/><line x1="30.5" y1="90.5" x2="254" y2="90.5"/><line x1="30.5" y1="110.5" x2="254" y2="110.5"/><line x1="30.5" y1="130.5" x2="254" y2="130.5"/><line x1="30.5" y1="150.5" x2="254" y2="150.5"/><line x1="30.5" y1="170.5" x2="254" y2="170.5"/></g><g class="yl" text-anchor="end"><text x="22.5" y="73.95">50</text><text x="22.5" y="93.95">40</text><text x="22.5" y="113.95">30</text><text x="22.5" y="133.95">20</text><text x="22.5" y="153.95">10</text><text x="22.5" y="173.95">0</text></g><g stroke="#e6e8eb" stroke-width="1" shape-rendering="crispEdges"><line x1="40.5" y1="170.5" x2="40.5" y2="175.5"/><line x1="81.5" y1="170.5" x2="81.5" y2="175.5"/><line x1="121.5" y1="170.5" x2="121.5" y2="175.5"/><line x1="162.5" y1="170.5" x2="162.5" y2="175.5"/><line x1="203.5" y1="170.5" x2="203.5" y2="175.5"/><line x1="243.5" y1="170.5" x2="243.5" y2="175.5"/></g><g class="xl" text-anchor="middle"><text x="40.66" y="188.2">12:23</text><text x="40.66" y="199.2">12–28</text><text x="81.3" y="188.2">12:25</text><text x="81.3" y="199.2">12–28</text><text x="121.93" y="188.2">12:27</text><text x="121.93" y="199.2">12–28</text><text x="162.57" y="188.2">12:29</text><text x="162.57" y="199.2">12–28</text><text x="203.2" y="188.2">12:31</text><text x="203.2" y="199.2">12–28</text><text x="243.84" y="188.2">12:33</text><text x="243.84" y="199.2">12–28</text></g><polyline fill="none" stroke="#37a2da" stroke-width="1.5" stroke-linejoin="bevel" points="40.66,170 60.98,150 81.3,150 101.61,150 121.93,150 142.25,150 162.57,150 182.89,150 203.2,150 223.52,150 243.84,150"/><polyline fill="none" stroke="#67e0e3" stroke-width="1.5" stroke-linejoin="bevel" points="40.66,170 60.98,150 81.3,150 101.61,150 121.93,150 142.25,150 162.57,150 182.89,150 203.2,150 223.52,150 243.84,150"/><polyline fill="none" stroke="#ffdb5c" stroke-width="1.5" stroke-linejoin="bevel" points="40.66,170 60.98,70 81.3,150 101.61,150 121.93,150 142.25,150 162.57,150 182.89,150 203.2,150 223.52,150 243.84,150"/><polyline fill="none" stroke="#ff9f7f" stroke-width="1.5" stroke-linejoin="bevel" points="40.66,170 60.98,70 81.3,150 101.61,150 121.93,70 142.25,150 162.57,70 182.89,150 203.2,150 223.52,150 243.84,150"/><circle cx="21" cy="47.3" r="6" fill="#37a2da"/><text class="lg" x="32" y="51.6">50</text><circle cx="62.2" cy="47.3" r="6" fill="#67e0e3"/><text class="lg" x="73.2" y="51.6">70</text><circle cx="103" cy="47.3" r="6" fill="#ffdb5c"/><text class="lg" x="114" y="51.6">90</text><circle cx="144.6" cy="47.3" r="6" fill="#ff9f7f"/><text class="lg" x="155.6" y="51.6">99</text></svg></div>
<div class="card" style="left:578px;top:491px"><div class="ct">Write OP Avg RTT (Server) (microsecond)</div><svg class="ch" width="274" height="210" viewBox="0 0 274 210"><g stroke="#eceef0" stroke-width="1" stroke-dasharray="4 2" shape-rendering="crispEdges"><line x1="51.5" y1="45.5" x2="254" y2="45.5"/><line x1="51.5" y1="66.5" x2="254" y2="66.5"/><line x1="51.5" y1="87.5" x2="254" y2="87.5"/><line x1="51.5" y1="108.5" x2="254" y2="108.5"/><line x1="51.5" y1="128.5" x2="254" y2="128.5"/><line x1="51.5" y1="149.5" x2="254" y2="149.5"/><line x1="51.5" y1="170.5" x2="254" y2="170.5"/></g><g class="yl" text-anchor="end"><text x="43.5" y="48.95">18,000</text><text x="43.5" y="69.95">15,000</text><text x="43.5" y="90.95">12,000</text><text x="43.5" y="111.95">9,000</text><text x="43.5" y="131.95">6,000</text><text x="43.5" y="152.95">3,000</text><text x="43.5" y="173.95">0</text></g><g stroke="#e6e8eb" stroke-width="1" shape-rendering="crispEdges"><line x1="60.5" y1="170.5" x2="60.5" y2="175.5"/><line x1="115.5" y1="170.5" x2="115.5" y2="175.5"/><line x1="171.5" y1="170.5" x2="171.5" y2="175.5"/><line x1="226.5" y1="170.5" x2="226.5" y2="175.5"/></g><g class="xl" text-anchor="middle"><text x="60.7" y="188.2">12:23</text><text x="60.7" y="199.2">12–28</text><text x="115.93" y="188.2">12:26</text><text x="115.93" y="199.2">12–28</text><text x="171.16" y="188.2">12:29</text><text x="171.16" y="199.2">12–28</text><text x="226.39" y="188.2">12:32</text><text x="226.39" y="199.2">12–28</text></g><polyline fill="none" stroke="#37a2da" stroke-width="1.5" stroke-linejoin="bevel" points="60.7,170 79.11,74.17 97.52,63.06 115.93,63.75 134.34,69.31 152.75,63.06 171.16,65.49 189.57,63.75 207.98,66.18 226.39,64.79 244.8,62.36"/></svg></div>
<div class="card" style="left:861px;top:491px"><div class="ct">Write OP RTT Percentile (server) (microsecond)</div><svg class="ch" width="274" height="210" viewBox="0 0 274 210"><g stroke="#eceef0" stroke-width="1" stroke-dasharray="4 2" shape-rendering="crispEdges"><line x1="53.5" y1="70.5" x2="254" y2="70.5"/><line x1="53.5" y1="95.5" x2="254" y2="95.5"/><line x1="53.5" y1="120.5" x2="254" y2="120.5"/><line x1="53.5" y1="145.5" x2="254" y2="145.5"/><line x1="53.5" y1="170.5" x2="254" y2="170.5"/></g><g class="yl" text-anchor="end"><text x="45.5" y="73.95">20,000</text><text x="45.5" y="98.95">15,000</text><text x="45.5" y="123.95">10,000</text><text x="45.5" y="148.95">5,000</text><text x="45.5" y="173.95">0</text></g><g stroke="#e6e8eb" stroke-width="1" shape-rendering="crispEdges"><line x1="62.5" y1="170.5" x2="62.5" y2="175.5"/><line x1="117.5" y1="170.5" x2="117.5" y2="175.5"/><line x1="171.5" y1="170.5" x2="171.5" y2="175.5"/><line x1="226.5" y1="170.5" x2="226.5" y2="175.5"/></g><g class="xl" text-anchor="middle"><text x="62.61" y="188.2">12:23</text><text x="62.61" y="199.2">12–28</text><text x="117.3" y="188.2">12:26</text><text x="117.3" y="199.2">12–28</text><text x="171.98" y="188.2">12:29</text><text x="171.98" y="199.2">12–28</text><text x="226.66" y="188.2">12:32</text><text x="226.66" y="199.2">12–28</text></g><polyline fill="none" stroke="#37a2da" stroke-width="1.5" stroke-linejoin="bevel" points="62.61,170 80.84,105 99.07,90 117.3,90 135.52,105 153.75,90 171.98,105 190.2,105 208.43,105 226.66,105 244.89,90"/><polyline fill="none" stroke="#67e0e3" stroke-width="1.5" stroke-linejoin="bevel" points="62.61,170 80.84,105 99.07,90 117.3,90 135.52,105 153.75,90 171.98,90 190.2,90 208.43,90 226.66,90 244.89,90"/><polyline fill="none" stroke="#ffdb5c" stroke-width="1.5" stroke-linejoin="bevel" points="62.61,170 80.84,90 99.07,90 117.3,90 135.52,90 153.75,90 171.98,90 190.2,90 208.43,90 226.66,90 244.89,90"/><polyline fill="none" stroke="#ff9f7f" stroke-width="1.5" stroke-linejoin="bevel" points="62.61,170 80.84,90 99.07,70 117.3,90 135.52,90 153.75,70 171.98,90 190.2,90 208.43,90 226.66,90 244.89,70"/><circle cx="21" cy="47.3" r="6" fill="#37a2da"/><text class="lg" x="32" y="51.6">50</text><circle cx="62.2" cy="47.3" r="6" fill="#67e0e3"/><text class="lg" x="73.2" y="51.6">70</text><circle cx="103" cy="47.3" r="6" fill="#ffdb5c"/><text class="lg" x="114" y="51.6">90</text><circle cx="144.6" cy="47.3" r="6" fill="#ff9f7f"/><text class="lg" x="155.6" y="51.6">99</text></svg></div>
<div class="card" style="left:10px;top:711px"><div class="ct">Read OP Per Minute (client)</div><svg class="ch" width="274" height="210" viewBox="0 0 274 210"><g stroke="#eceef0" stroke-width="1" stroke-dasharray="4 2" shape-rendering="crispEdges"><line x1="29.5" y1="45.5" x2="254" y2="45.5"/><line x1="29.5" y1="70.5" x2="254" y2="70.5"/><line x1="29.5" y1="95.5" x2="254" y2="95.5"/><line x1="29.5" y1="120.5" x2="254" y2="120.5"/><line x1="29.5" y1="145.5" x2="254" y2="145.5"/><line x1="29.5" y1="170.5" x2="254" y2="170.5"/></g><g class="yl" text-anchor="end"><text x="21.5" y="48.95">10</text><text x="21.5" y="73.95">8</text><text x="21.5" y="98.95">6</text><text x="21.5" y="123.95">4</text><text x="21.5" y="148.95">2</text><text x="21.5" y="173.95">0</text></g><g stroke="#e6e8eb" stroke-width="1" shape-rendering="crispEdges"><line x1="39.5" y1="170.5" x2="39.5" y2="175.5"/><line x1="80.5" y1="170.5" x2="80.5" y2="175.5"/><line x1="121.5" y1="170.5" x2="121.5" y2="175.5"/><line x1="162.5" y1="170.5" x2="162.5" y2="175.5"/><line x1="202.5" y1="170.5" x2="202.5" y2="175.5"/><line x1="243.5" y1="170.5" x2="243.5" y2="175.5"/></g><g class="xl" text-anchor="middle"><text x="39.7" y="188.2">12:23</text><text x="39.7" y="199.2">12–28</text><text x="80.52" y="188.2">12:25</text><text x="80.52" y="199.2">12–28</text><text x="121.34" y="188.2">12:27</text><text x="121.34" y="199.2">12–28</text><text x="162.16" y="188.2">12:29</text><text x="162.16" y="199.2">12–28</text><text x="202.98" y="188.2">12:31</text><text x="202.98" y="199.2">12–28</text><text x="243.8" y="188.2">12:33</text><text x="243.8" y="199.2">12–28</text></g><polyline fill="none" stroke="#37a2da" stroke-width="1.5" stroke-linejoin="bevel" points="39.7,170 60.11,107.5 80.52,95 100.93,95 121.34,95 141.75,95 162.16,95 182.57,95 202.98,95 223.39,95 243.8,95"/></svg></div>
<div class="card" style="left:294px;top:711px"><div class="ct">Read Package Size (Client) (KB)</div><svg class="ch" width="274" height="210" viewBox="0 0 274 210"><g stroke="#eceef0" stroke-width="1" stroke-dasharray="4 2" shape-rendering="crispEdges"><line x1="33.5" y1="45.5" x2="254" y2="45.5"/><line x1="33.5" y1="63.5" x2="254" y2="63.5"/><line x1="33.5" y1="81.5" x2="254" y2="81.5"/><line x1="33.5" y1="99.5" x2="254" y2="99.5"/><line x1="33.5" y1="116.5" x2="254" y2="116.5"/><line x1="33.5" y1="134.5" x2="254" y2="134.5"/><line x1="33.5" y1="152.5" x2="254" y2="152.5"/><line x1="33.5" y1="170.5" x2="254" y2="170.5"/></g><g class="yl" text-anchor="end"><text x="25.5" y="48.95">3.5</text><text x="25.5" y="66.95">3</text><text x="25.5" y="84.95">2.5</text><text x="25.5" y="102.95">2</text><text x="25.5" y="119.95">1.5</text><text x="25.5" y="137.95">1</text><text x="25.5" y="155.95">0.5</text><text x="25.5" y="173.95">0</text></g><g stroke="#e6e8eb" stroke-width="1" shape-rendering="crispEdges"><line x1="43.5" y1="170.5" x2="43.5" y2="175.5"/><line x1="103.5" y1="170.5" x2="103.5" y2="175.5"/><line x1="163.5" y1="170.5" x2="163.5" y2="175.5"/><line x1="223.5" y1="170.5" x2="223.5" y2="175.5"/></g><g class="xl" text-anchor="middle"><text x="43.52" y="188.2">12:23</text><text x="43.52" y="199.2">12–28</text><text x="103.66" y="188.2">12:26</text><text x="103.66" y="199.2">12–28</text><text x="163.8" y="188.2">12:29</text><text x="163.8" y="199.2">12–28</text><text x="223.93" y="188.2">12:32</text><text x="223.93" y="199.2">12–28</text></g><polyline fill="none" stroke="#37a2da" stroke-width="1.5" stroke-linejoin="bevel" points="43.52,170 63.57,70 83.61,51.43 103.66,51.43 123.7,51.43 143.75,51.43 163.8,51.43 183.84,51.43 203.89,51.43 223.93,51.43 243.98,51.43"/></svg></div>
<div class="card" style="left:578px;top:711px"><div class="ct">Read OP Per Minute (server)</div><svg class="ch" width="274" height="210" viewBox="0 0 274 210"><g stroke="#eceef0" stroke-width="1" stroke-dasharray="4 2" shape-rendering="crispEdges"><line x1="37.5" y1="45.5" x2="254" y2="45.5"/><line x1="37.5" y1="70.5" x2="254" y2="70.5"/><line x1="37.5" y1="95.5" x2="254" y2="95.5"/><line x1="37.5" y1="120.5" x2="254" y2="120.5"/><line x1="37.5" y1="145.5" x2="254" y2="145.5"/><line x1="37.5" y1="170.5" x2="254" y2="170.5"/></g><g class="yl" text-anchor="end"><text x="29.5" y="48.95">150</text><text x="29.5" y="73.95">120</text><text x="29.5" y="98.95">90</text><text x="29.5" y="123.95">60</text><text x="29.5" y="148.95">30</text><text x="29.5" y="173.95">0</text></g><g stroke="#e6e8eb" stroke-width="1" shape-rendering="crispEdges"><line x1="47.5" y1="170.5" x2="47.5" y2="175.5"/><line x1="106.5" y1="170.5" x2="106.5" y2="175.5"/><line x1="165.5" y1="170.5" x2="165.5" y2="175.5"/><line x1="224.5" y1="170.5" x2="224.5" y2="175.5"/></g><g class="xl" text-anchor="middle"><text x="47.34" y="188.2">12:23</text><text x="47.34" y="199.2">12–28</text><text x="106.39" y="188.2">12:26</text><text x="106.39" y="199.2">12–28</text><text x="165.43" y="188.2">12:29</text><text x="165.43" y="199.2">12–28</text><text x="224.48" y="188.2">12:32</text><text x="224.48" y="199.2">12–28</text></g><polyline fill="none" stroke="#37a2da" stroke-width="1.5" stroke-linejoin="bevel" points="47.34,170 67.02,60 86.7,50.92 106.39,50.08 126.07,50.83 145.75,50.33 165.43,50.08 185.11,51.17 204.8,51.67 224.48,50.42 244.16,53"/></svg></div>
<div class="card" style="left:861px;top:711px"><div class="ct">Read Package Size (Server) (KB)</div><svg class="ch" width="274" height="210" viewBox="0 0 274 210"><g stroke="#eceef0" stroke-width="1" stroke-dasharray="4 2" shape-rendering="crispEdges"><line x1="29.5" y1="45.5" x2="254" y2="45.5"/><line x1="29.5" y1="66.5" x2="254" y2="66.5"/><line x1="29.5" y1="87.5" x2="254" y2="87.5"/><line x1="29.5" y1="108.5" x2="254" y2="108.5"/><line x1="29.5" y1="128.5" x2="254" y2="128.5"/><line x1="29.5" y1="149.5" x2="254" y2="149.5"/><line x1="29.5" y1="170.5" x2="254" y2="170.5"/></g><g class="yl" text-anchor="end"><text x="21.5" y="48.95">12</text><text x="21.5" y="69.95">10</text><text x="21.5" y="90.95">8</text><text x="21.5" y="111.95">6</text><text x="21.5" y="131.95">4</text><text x="21.5" y="152.95">2</text><text x="21.5" y="173.95">0</text></g><g stroke="#e6e8eb" stroke-width="1" shape-rendering="crispEdges"><line x1="39.5" y1="170.5" x2="39.5" y2="175.5"/><line x1="80.5" y1="170.5" x2="80.5" y2="175.5"/><line x1="121.5" y1="170.5" x2="121.5" y2="175.5"/><line x1="162.5" y1="170.5" x2="162.5" y2="175.5"/><line x1="202.5" y1="170.5" x2="202.5" y2="175.5"/><line x1="243.5" y1="170.5" x2="243.5" y2="175.5"/></g><g class="xl" text-anchor="middle"><text x="39.7" y="188.2">12:23</text><text x="39.7" y="199.2">12–28</text><text x="80.52" y="188.2">12:25</text><text x="80.52" y="199.2">12–28</text><text x="121.34" y="188.2">12:27</text><text x="121.34" y="199.2">12–28</text><text x="162.16" y="188.2">12:29</text><text x="162.16" y="199.2">12–28</text><text x="202.98" y="188.2">12:31</text><text x="202.98" y="199.2">12–28</text><text x="243.8" y="188.2">12:33</text><text x="243.8" y="199.2">12–28</text></g><polyline fill="none" stroke="#37a2da" stroke-width="1.5" stroke-linejoin="bevel" points="39.7,170 60.11,62.71 80.52,49.69 100.93,50 121.34,49.38 141.75,50 162.16,49.58 182.57,50 202.98,49.79 223.39,49.79 243.8,50.21"/></svg></div>
</div>
</body></html>
